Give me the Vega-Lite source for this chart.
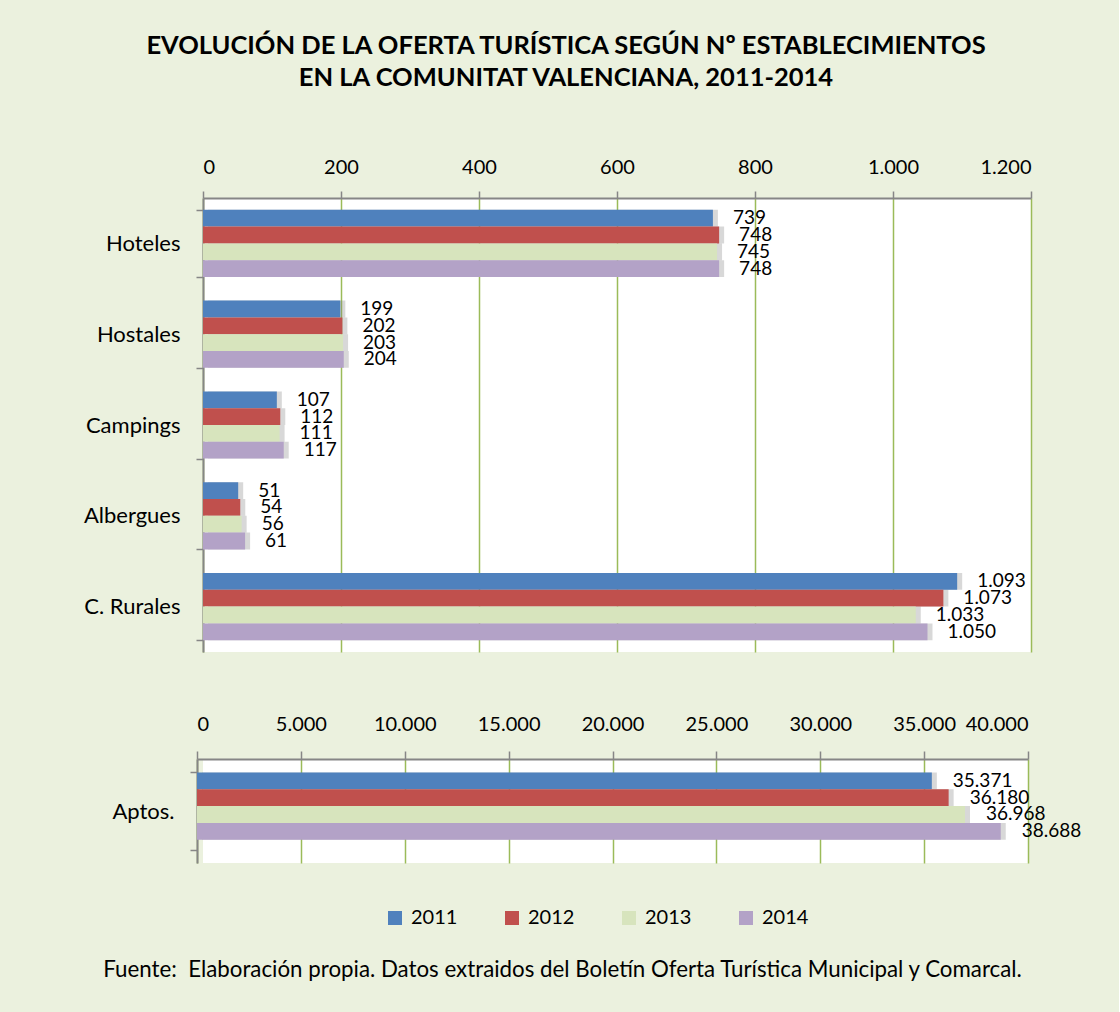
{
  "$schema": "https://vega.github.io/schema/vega-lite/v6.json",
  "padding": {"left": 83, "top": 33, "right": 37, "bottom": 30},
  "config": {
    "background": "#EBF1DE",
    "font": "Lato",
    "locale": {"number": {"decimal": ",", "thousands": ".", "grouping": [3], "currency": ["", " €"]}},
    "view": {"fill": "white", "stroke": null},
    "axis": {"labelFont": "Lato", "labelFontSize": 20, "labelColor": "#000000", "domainColor": "#868686", "tickColor": "#868686", "domainWidth": 2, "tickWidth": 1.5, "title": null},
    "concat": {"spacing": 62}
  },
  "data": {"values": [
    {"panel": "top", "cat": "Hoteles", "year": "2011", "value": 739},
    {"panel": "top", "cat": "Hoteles", "year": "2012", "value": 748},
    {"panel": "top", "cat": "Hoteles", "year": "2013", "value": 745},
    {"panel": "top", "cat": "Hoteles", "year": "2014", "value": 748},
    {"panel": "top", "cat": "Hostales", "year": "2011", "value": 199},
    {"panel": "top", "cat": "Hostales", "year": "2012", "value": 202},
    {"panel": "top", "cat": "Hostales", "year": "2013", "value": 203},
    {"panel": "top", "cat": "Hostales", "year": "2014", "value": 204},
    {"panel": "top", "cat": "Campings", "year": "2011", "value": 107},
    {"panel": "top", "cat": "Campings", "year": "2012", "value": 112},
    {"panel": "top", "cat": "Campings", "year": "2013", "value": 111},
    {"panel": "top", "cat": "Campings", "year": "2014", "value": 117},
    {"panel": "top", "cat": "Albergues", "year": "2011", "value": 51},
    {"panel": "top", "cat": "Albergues", "year": "2012", "value": 54},
    {"panel": "top", "cat": "Albergues", "year": "2013", "value": 56},
    {"panel": "top", "cat": "Albergues", "year": "2014", "value": 61},
    {"panel": "top", "cat": "C. Rurales", "year": "2011", "value": 1093},
    {"panel": "top", "cat": "C. Rurales", "year": "2012", "value": 1073},
    {"panel": "top", "cat": "C. Rurales", "year": "2013", "value": 1033},
    {"panel": "top", "cat": "C. Rurales", "year": "2014", "value": 1050},
    {"panel": "bottom", "cat": "Aptos.", "year": "2011", "value": 35371},
    {"panel": "bottom", "cat": "Aptos.", "year": "2012", "value": 36180},
    {"panel": "bottom", "cat": "Aptos.", "year": "2013", "value": 36968},
    {"panel": "bottom", "cat": "Aptos.", "year": "2014", "value": 38688}
  ]},
  "vconcat": [
    {
      "title": {"text": ["EVOLUCIÓN DE LA OFERTA TURÍSTICA SEGÚN Nº ESTABLECIMIENTOS", "EN LA COMUNITAT VALENCIANA, 2011-2014"], "font": "Lato", "fontSize": 25.5, "fontWeight": "bold", "lineHeight": 32, "offset": 66, "anchor": "middle", "dx": -51, "color": "#000000"},
      "width": 828,
      "height": 454,
      "transform": [{"filter": "datum.panel == 'top'"}],
      "encoding": {
        "y": {"field": "cat", "type": "nominal", "sort": ["Hoteles", "Hostales", "Campings", "Albergues", "C. Rurales"], "scale": {"paddingInner": 0.26, "paddingOuter": 0.13}, "axis": {"tickBand": "extent", "tickSize": 7, "labelPadding": 16, "labelFontSize": 22, "grid": false}},
        "yOffset": {"field": "year", "type": "nominal", "scale": {"paddingInner": 0, "paddingOuter": 0}},
        "x": {"field": "value", "type": "quantitative", "scale": {"domain": [0, 1200], "nice": false}, "axis": {"orient": "top", "values": [0, 200, 400, 600, 800, 1000, 1200], "format": ",d", "grid": true, "gridColor": "#9BBB59", "gridWidth": 1.5, "tickSize": 7, "labelPadding": 14}}
      },
      "layer": [
        {"mark": {"type": "bar", "color": "#7F7F7F", "opacity": 0.3, "xOffset": 5}},
        {"mark": {"type": "bar"}, "encoding": {"color": {"field": "year", "type": "nominal", "scale": {"domain": ["2011", "2012", "2013", "2014"], "range": ["#4F81BD", "#C0504D", "#D7E4BD", "#B3A2C7"]}, "legend": {"orient": "none", "legendX": 182, "legendY": 710, "direction": "horizontal", "title": null, "symbolType": "square", "symbolSize": 196, "symbolStrokeWidth": 0, "labelFontSize": 20, "labelColor": "#000000", "columnPadding": 44, "labelOffset": 6}}}},
        {"mark": {"type": "text", "align": "left", "baseline": "middle", "dx": 20, "fontSize": 19, "color": "#000000"}, "encoding": {"text": {"field": "value", "type": "quantitative", "format": ",d"}}}
      ]
    },
    {
      "title": {"text": "Fuente:\u00a0 Elaboración propia. Datos extraidos del Boletín Oferta Turística Municipal y Comarcal.", "orient": "bottom", "font": "Lato", "fontSize": 22.3, "fontWeight": "normal", "offset": 96, "anchor": "middle", "dx": -53, "color": "#000000"},
      "width": 825,
      "height": 104,
      "transform": [{"filter": "datum.panel == 'bottom'"}],
      "encoding": {
        "y": {"field": "cat", "type": "nominal", "scale": {"paddingInner": 0, "paddingOuter": 0.175}, "axis": {"tickBand": "extent", "tickSize": 7, "labelPadding": 16, "labelFontSize": 22, "offset": 6, "grid": false}},
        "yOffset": {"field": "year", "type": "nominal", "scale": {"paddingInner": 0, "paddingOuter": 0}},
        "x": {"field": "value", "type": "quantitative", "scale": {"domain": [0, 40000], "nice": false, "range": [-6, 825]}, "axis": {"orient": "top", "values": [0, 5000, 10000, 15000, 20000, 25000, 30000, 35000, 40000], "format": ",d", "grid": true, "gridColor": "#9BBB59", "gridWidth": 1.5, "tickSize": 8, "labelPadding": 17}}
      },
      "layer": [
        {"mark": {"type": "bar", "color": "#7F7F7F", "opacity": 0.3, "xOffset": 5}},
        {"mark": {"type": "bar"}, "encoding": {"color": {"field": "year", "type": "nominal"}}},
        {"mark": {"type": "text", "align": "left", "baseline": "middle", "dx": 21, "fontSize": 19, "color": "#000000"}, "encoding": {"text": {"field": "value", "type": "quantitative", "format": ",d"}}}
      ]
    }
  ]
}
